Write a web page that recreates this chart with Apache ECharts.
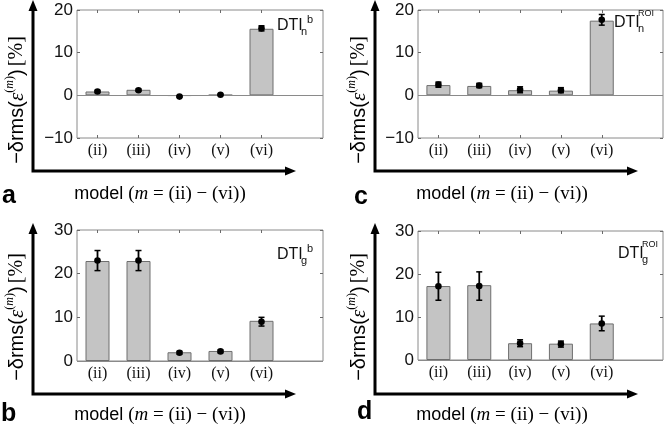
<!DOCTYPE html>
<html>
<head>
<meta charset="utf-8">
<script src="https://cdn.jsdelivr.net/npm/echarts@6/dist/echarts.min.js"></script>
<style>html,body{margin:0;padding:0;background:#fff;}#c{width:664px;height:424px;}</style>
</head>
<body>
<div id="c"></div>
<script>
// ---- data ----
const categories = ['(ii)', '(iii)', '(iv)', '(v)', '(vi)'];
// panel a: DTI_n^b
const barA  = [0.9, 1.3, -0.1, 0.1, 15.6];
const meanA = [0.9, 1.2, -0.3, 0.15, 15.7];
const errA  = [0.25, 0.25, 0.15, 0.15, 0.6];
// panel c: DTI_n^ROI
const barC  = [2.4, 2.2, 1.2, 1.1, 17.5];
const meanC = [2.5, 2.3, 1.3, 1.2, 17.7];
const errC  = [0.6, 0.5, 0.7, 0.6, 1.25];
// panel b: DTI_g^b
const barB  = [22.9, 22.9, 2.0, 2.3, 9.2];
const meanB = [23.0, 23.0, 1.9, 2.2, 9.0];
const errB  = [2.3, 2.3, 0.3, 0.3, 1.0];
// panel d: DTI_g^ROI
const barD  = [17.2, 17.4, 3.9, 3.8, 8.5];
const meanD = [17.15, 17.2, 3.9, 3.7, 8.5];
const errD  = [3.25, 3.3, 0.8, 0.7, 1.7];
// y ranges / ticks
const yTicksTop = [-10, 0, 10, 20];
const yTicksBottom = [0, 10, 20, 30];
const panelLetters = ['a', 'c', 'b', 'd'];

const xCats = categories.concat(['']);
const panels = [
  {bar: barA, mean: meanA, err: errA, ticks: yTicksTop,    grid: {left: 77,  top: 10,  width: 246, height: 128}},
  {bar: barC, mean: meanC, err: errC, ticks: yTicksTop,    grid: {left: 418, top: 10,  width: 245, height: 128}},
  {bar: barB, mean: meanB, err: errB, ticks: yTicksBottom, grid: {left: 77,  top: 230, width: 246, height: 131}},
  {bar: barD, mean: meanD, err: errD, ticks: yTicksBottom, grid: {left: 418, top: 231, width: 245, height: 129}}
];

const GRID_BORDER = '#8a8a8a';
const TICK_COLOR = '#6a6a6a';
const grids = [], xAxes = [], yAxes = [], series = [];

panels.forEach((p, i) => {
  grids.push(Object.assign({show: true, borderColor: GRID_BORDER, borderWidth: 1, backgroundColor: '#fff'}, p.grid));
  const tickInterval = (idx, val) => val !== '';
  ['bottom', 'top'].forEach(pos => {
    xAxes.push({
      gridIndex: i, type: 'category', data: xCats, position: pos, boundaryGap: true,
      axisLine: {show: false, onZero: false},
      axisTick: {show: true, inside: true, alignWithLabel: true, length: 3, interval: tickInterval, lineStyle: {color: TICK_COLOR}},
      axisLabel: {show: pos === 'bottom', interval: 0, margin: 5, fontFamily: 'Liberation Serif', fontSize: 16, color: '#111'},
      splitLine: {show: false}
    });
  });
  const ymin = p.ticks[0], ymax = p.ticks[p.ticks.length - 1];
  ['left', 'right'].forEach(pos => {
    yAxes.push({
      gridIndex: i, type: 'value', position: pos, min: ymin, max: ymax, interval: 10,
      axisLine: {show: false},
      axisTick: {show: true, inside: true, length: 3, lineStyle: {color: TICK_COLOR}},
      axisLabel: {show: pos === 'left', margin: 4, fontFamily: 'Liberation Sans', fontSize: 17, color: '#111',
                  formatter: v => String(v).replace('-', '\u2212')},
      splitLine: {show: false}
    });
  });
  series.push({
    type: 'bar', xAxisIndex: 2 * i, yAxisIndex: 2 * i, data: p.bar, barWidth: 24,
    itemStyle: {color: '#c4c4c4', borderColor: '#6e6e6e', borderWidth: 1},
    silent: true, z: 2,
    markLine: {silent: true, symbol: 'none', label: {show: false},
               lineStyle: {color: '#8a8a8a', type: 'solid', width: 1},
               data: [{yAxis: 0}]}
  });
  series.push({
    type: 'custom', xAxisIndex: 2 * i, yAxisIndex: 2 * i, z: 5, silent: true,
    data: p.mean.map((m, k) => [k, m, p.err[k]]),
    encode: {x: 0, y: 1},
    renderItem: (params, api) => {
      const k = api.value(0), m = api.value(1), e = api.value(2);
      const c = api.coord([k, m]);
      const t = api.coord([k, m + e]);
      const b = api.coord([k, m - e]);
      return {type: 'group', children: [
        {type: 'line', shape: {x1: c[0], y1: t[1], x2: c[0], y2: b[1]}, style: {stroke: '#000', lineWidth: 1.8}},
        {type: 'line', shape: {x1: c[0] - 3, y1: t[1], x2: c[0] + 3, y2: t[1]}, style: {stroke: '#000', lineWidth: 1.5}},
        {type: 'line', shape: {x1: c[0] - 3, y1: b[1], x2: c[0] + 3, y2: b[1]}, style: {stroke: '#000', lineWidth: 1.5}},
        {type: 'circle', shape: {cx: c[0], cy: c[1], r: 3.3}, style: {fill: '#000'}}
      ]};
    }
  });
});

// ---- decorations: arrows, labels ----
const graphics = [];
const offsets = [
  {ox: 0,   oy: 0,   lx: 2,   ly: 196},
  {ox: 342, oy: 0,   lx: 354, ly: 197},
  {ox: 0,   oy: 223, lx: 1,   ly: 414},
  {ox: 342, oy: 223, lx: 357, ly: 412}
];
const richY = {
  s: {fontFamily: 'Liberation Sans', fontSize: 20, color: '#111', lineHeight: 26},
  e: {fontFamily: 'Liberation Serif', fontStyle: 'italic', fontSize: 21, color: '#111', lineHeight: 26},
  p: {fontFamily: 'Liberation Serif', fontSize: 12, color: '#111', lineHeight: 12, verticalAlign: 'top'},
  q: {fontFamily: 'Liberation Serif', fontStyle: 'italic', fontSize: 12, color: '#111', lineHeight: 12, verticalAlign: 'top'},
  r: {fontFamily: 'Liberation Serif', fontSize: 20, color: '#111', lineHeight: 26}
};
const richX = {
  s: {fontFamily: 'Liberation Sans', fontSize: 18, color: '#111'},
  r: {fontFamily: 'Liberation Serif', fontSize: 19, color: '#111'},
  i: {fontFamily: 'Liberation Serif', fontStyle: 'italic', fontSize: 19, color: '#111'}
};
offsets.forEach((o, i) => {
  const ax = 33 + o.ox, ay = 171 + o.oy, top = 9 + o.oy, right = 287 + o.ox;
  graphics.push({type: 'polyline', shape: {points: [[ax, top], [ax, ay], [right, ay]]},
                 style: {stroke: '#000', lineWidth: 3, fill: null, lineJoin: 'miter'}});
  graphics.push({type: 'polygon', shape: {points: [[ax, 0 + o.oy], [ax - 4.5, 11 + o.oy], [ax + 4.5, 11 + o.oy]]}, style: {fill: '#000'}});
  graphics.push({type: 'polygon', shape: {points: [[right + 9, ay], [right - 2, ay - 4.5], [right - 2, ay + 4.5]]}, style: {fill: '#000'}});
  // panel letter
  graphics.push({type: 'text', x: o.lx, y: o.ly, style: {text: panelLetters[i], fontFamily: 'Liberation Sans', fontWeight: 'bold', fontSize: 25, fill: '#000', align: 'left', verticalAlign: 'middle'}});
  // x axis label
  graphics.push({type: 'text', x: 160 + o.ox, y: 194 + o.oy - (i >= 2 ? 2 : 0),
                 style: {text: '{s|model }{r|(}{i|m}{r| = (ii) \u2212 (vi))}', rich: richX, align: 'center', verticalAlign: 'middle'}});
  // y axis label (rotated)
  graphics.push({type: 'text', x: 17 + o.ox, y: 100 + o.oy - (i >= 2 ? 6 : 0), rotation: Math.PI / 2,
                 style: {text: '{s|\u2212\u03b4rms(}{e|\u03b5}{p|(}{q|m}{p|)}{s|)} {r|[%]}', rich: richY, align: 'center', verticalAlign: 'middle'}});
});

// DTI annotations
function dti(x, y, sub, sup, supSize) {
  graphics.push({type: 'text', x: x, y: y, style: {text: 'DTI', fontFamily: 'Liberation Sans', fontSize: 16, fill: '#111', align: 'left', verticalAlign: 'middle'}});
  graphics.push({type: 'text', x: x + 24, y: y + 6, style: {text: sub, fontFamily: 'Liberation Sans', fontSize: 11, fill: '#111', align: 'left', verticalAlign: 'middle'}});
  graphics.push({type: 'text', x: x + (sup === 'b' ? 30 : 24), y: y - (sup === 'b' ? 6 : 9), style: {text: sup, fontFamily: 'Liberation Sans', fontSize: supSize, fill: '#111', align: 'left', verticalAlign: 'middle'}});
}
dti(277, 26, 'n', 'b', 11);
dti(614, 23, 'n', 'ROI', 9);
dti(277, 255, 'g', 'b', 11);
dti(618, 254, 'g', 'ROI', 9);

const chart = echarts.init(document.getElementById('c'), null, {renderer: 'canvas'});
chart.setOption({
  animation: false,
  backgroundColor: '#fff',
  grid: grids, xAxis: xAxes, yAxis: yAxes, series: series,
  graphic: graphics
});
</script>
</body>
</html>
